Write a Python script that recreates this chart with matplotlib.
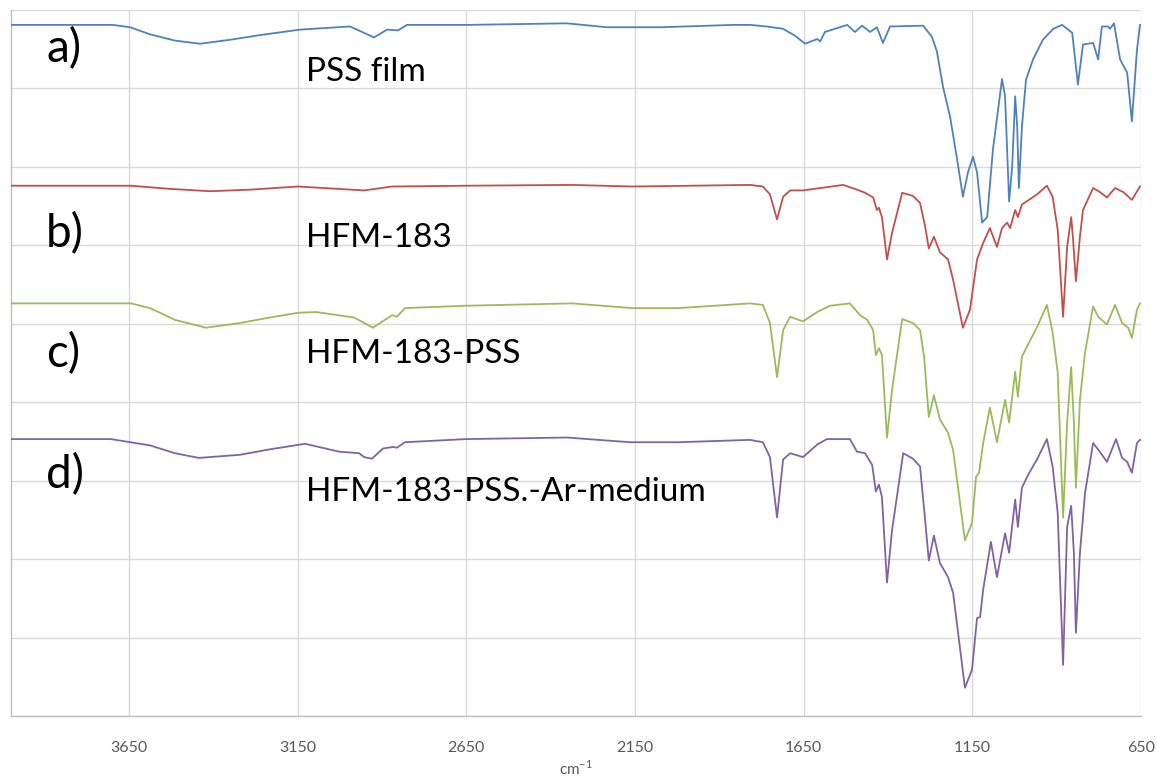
import matplotlib
matplotlib.use("Agg")
import matplotlib.pyplot as plt

plt.rcParams['font.family'] = ['Lato', 'DejaVu Sans']

# ---- data (wavenumber, cm-1 ; offset signal in grid units) ----
wn_a = [4000, 3698, 3647, 3588, 3514, 3440, 3351, 3262, 3143, 2995, 2959, 2924, 2885, 2853,
        2826, 2648, 2352, 2233, 2156, 2076, 1859, 1809, 1760, 1711, 1675, 1646, 1610, 1601,
        1587, 1521, 1498, 1477, 1453, 1433, 1415, 1394, 1296, 1270, 1255, 1237, 1216, 1195,
        1178, 1163, 1148, 1136, 1121, 1106, 1089, 1062, 1053, 1041, 1032, 1023, 1017, 1012,
        1003, 991, 970, 941, 910, 884, 854, 837, 822, 792, 777, 766, 748, 742, 730, 712, 691,
        677, 662, 653]
sig_a = [8.81, 8.81, 8.78, 8.69, 8.61, 8.57, 8.62, 8.68, 8.75, 8.79, 8.72, 8.65, 8.75, 8.74,
         8.81, 8.81, 8.83, 8.78, 8.78, 8.78, 8.81, 8.81, 8.79, 8.76, 8.67, 8.57, 8.63, 8.60,
         8.72, 8.81, 8.72, 8.80, 8.72, 8.78, 8.58, 8.79, 8.80, 8.66, 8.47, 8.02, 7.64, 7.09,
         6.62, 6.93, 7.13, 6.93, 6.29, 6.36, 7.22, 8.12, 7.90, 6.56, 7.00, 7.90, 7.51, 6.73,
         7.51, 8.11, 8.37, 8.62, 8.76, 8.81, 8.71, 8.05, 8.56, 8.58, 8.37, 8.79, 8.79, 8.76,
         8.83, 8.37, 8.20, 7.58, 8.49, 8.81]

wn_b = [4000, 3644, 3530, 3410, 3290, 3149, 2953, 2870, 2651, 2337, 2159, 1809, 1771, 1750,
        1729, 1711, 1690, 1652, 1533, 1492, 1468, 1444, 1433, 1427, 1418, 1403, 1388, 1358,
        1326, 1305, 1290, 1279, 1264, 1246, 1222, 1207, 1178, 1157, 1136, 1118, 1098, 1077,
        1062, 1047, 1038, 1023, 1015, 1003, 958, 929, 912, 897, 881, 869, 857, 852, 843, 831,
        822, 792, 772, 751, 727, 703, 677, 653]
sig_b = [6.76, 6.76, 6.72, 6.69, 6.71, 6.75, 6.70, 6.75, 6.76, 6.77, 6.75, 6.77, 6.75, 6.65,
         6.33, 6.62, 6.70, 6.70, 6.77, 6.71, 6.67, 6.61, 6.45, 6.48, 6.36, 5.82, 6.16, 6.67,
         6.63, 6.54, 6.24, 5.96, 6.11, 5.91, 5.82, 5.56, 4.95, 5.18, 5.82, 6.03, 6.22, 5.98,
         6.22, 6.29, 6.22, 6.45, 6.36, 6.52, 6.65, 6.76, 6.62, 6.20, 5.09, 5.98, 6.36, 6.11,
         5.54, 6.11, 6.45, 6.73, 6.68, 6.61, 6.73, 6.68, 6.58, 6.75]

wn_c = [4000, 3644, 3588, 3514, 3422, 3321, 3232, 3149, 3096, 2983, 2927, 2870, 2856, 2832,
        2651, 2337, 2159, 2020, 1809, 1771, 1750, 1729, 1711, 1690, 1652, 1610, 1572, 1513,
        1483, 1462, 1444, 1436, 1427, 1418, 1403, 1388, 1358, 1326, 1305, 1293, 1279, 1264,
        1246, 1222, 1207, 1172, 1151, 1139, 1130, 1118, 1098, 1077, 1053, 1041, 1023, 1015,
        1003, 988, 958, 929, 912, 897, 881, 869, 857, 849, 843, 831, 816, 792, 777, 751, 727,
        706, 688, 677, 662, 653]
sig_c = [5.26, 5.26, 5.20, 5.05, 4.95, 5.01, 5.08, 5.14, 5.15, 5.08, 4.95, 5.11, 5.09, 5.20,
         5.23, 5.26, 5.20, 5.20, 5.26, 5.24, 5.01, 4.32, 4.92, 5.09, 5.03, 5.15, 5.23, 5.26,
         5.11, 5.05, 4.92, 4.60, 4.69, 4.60, 3.55, 4.16, 5.06, 5.01, 4.92, 4.58, 3.81, 4.09,
         3.78, 3.61, 3.39, 2.24, 2.46, 3.05, 3.10, 3.48, 3.93, 3.49, 4.03, 3.74, 4.39, 4.07,
         4.58, 4.71, 4.96, 5.24, 4.89, 4.38, 2.53, 3.74, 4.45, 3.74, 2.91, 4.03, 4.63, 5.22,
         5.09, 4.99, 5.24, 5.01, 4.95, 4.82, 5.18, 5.26]

wn_d = [4000, 3704, 3588, 3514, 3443, 3321, 3232, 3128, 3028, 2968, 2953, 2930, 2897, 2867,
        2856, 2832, 2651, 2352, 2165, 2020, 1809, 1771, 1750, 1729, 1711, 1690, 1652, 1610,
        1581, 1513, 1492, 1468, 1447, 1436, 1427, 1418, 1403, 1388, 1355, 1326, 1305, 1290,
        1279, 1264, 1246, 1222, 1207, 1172, 1151, 1136, 1127, 1118, 1095, 1077, 1053, 1041,
        1023, 1015, 1003, 985, 956, 929, 912, 897, 881, 869, 857, 849, 843, 831, 816, 792, 774,
        751, 724, 706, 691, 677, 662, 653]
sig_d = [3.53, 3.53, 3.45, 3.35, 3.29, 3.33, 3.40, 3.47, 3.37, 3.35, 3.30, 3.28, 3.41, 3.43,
         3.42, 3.49, 3.53, 3.55, 3.49, 3.49, 3.52, 3.49, 3.30, 2.53, 3.27, 3.35, 3.30, 3.46,
         3.53, 3.53, 3.37, 3.35, 3.20, 2.86, 2.95, 2.79, 1.70, 2.37, 3.35, 3.28, 3.18, 2.50,
         1.98, 2.30, 1.95, 1.77, 1.57, 0.36, 0.59, 1.25, 1.26, 1.61, 2.22, 1.77, 2.33, 2.08,
         2.76, 2.41, 2.91, 3.07, 3.29, 3.53, 3.18, 2.59, 0.65, 2.41, 2.68, 2.08, 1.06, 2.08,
         2.84, 3.48, 3.38, 3.24, 3.53, 3.29, 3.24, 3.10, 3.48, 3.52]

tick_values = [3650, 3150, 2650, 2150, 1650, 1150, 650]
letters = ['a)', 'b)', 'c)', 'd)']
names = ['PSS film', 'HFM-183', 'HFM-183-PSS', 'HFM-183-PSS.-Ar-medium']
colors = ['#4F81BD', '#C0504D', '#9BBB59', '#8064A2']

# label anchor positions (data units)
letter_y = [8.33, 5.98, 4.45, 2.91]
name_y = [8.09, 5.98, 4.50, 2.74]

W, H = 1157, 779
fig = plt.figure(figsize=(W / 100, H / 100), dpi=100)
ax = fig.add_axes([11 / W, 1 - 716 / H, (1141 - 11) / W, (716 - 10) / H])

for wn, sig, c in zip([wn_a, wn_b, wn_c, wn_d], [sig_a, sig_b, sig_c, sig_d], colors):
    ax.plot(wn, sig, color=c, lw=1.3, solid_joinstyle='round', zorder=3)

ax.set_xlim(4000, 650)
ax.set_ylim(0, 9)
ax.set_xticks(tick_values)
ax.set_xticklabels([str(v) for v in tick_values])
ax.set_yticks(range(0, 10))
ax.set_yticklabels([])
ax.tick_params(axis='both', length=0)
ax.tick_params(axis='x', pad=18, labelsize=11.5, labelcolor='#595959')
ax.grid(True, color='#d9d9d9', lw=1.0, zorder=0)
ax.set_axisbelow(True)
for s in ['top', 'right']:
    ax.spines[s].set_visible(False)
for s in ['left', 'bottom']:
    ax.spines[s].set_color('#bfbfbf')
    ax.spines[s].set_linewidth(1.0)

for i in range(4):
    ax.text(3896, letter_y[i], letters[i], fontsize=33, va='baseline', ha='left',
            color='#000000', zorder=4)
    ax.text(3125, name_y[i], names[i], fontsize=24, va='baseline', ha='left',
            color='#000000', zorder=4)

fig.text(576 / W, 1 - 768 / H, r'cm$^{\mathregular{-1}}$', ha='center', va='center',
         fontsize=11, color='#595959')

fig.savefig('out.png', dpi=100)
